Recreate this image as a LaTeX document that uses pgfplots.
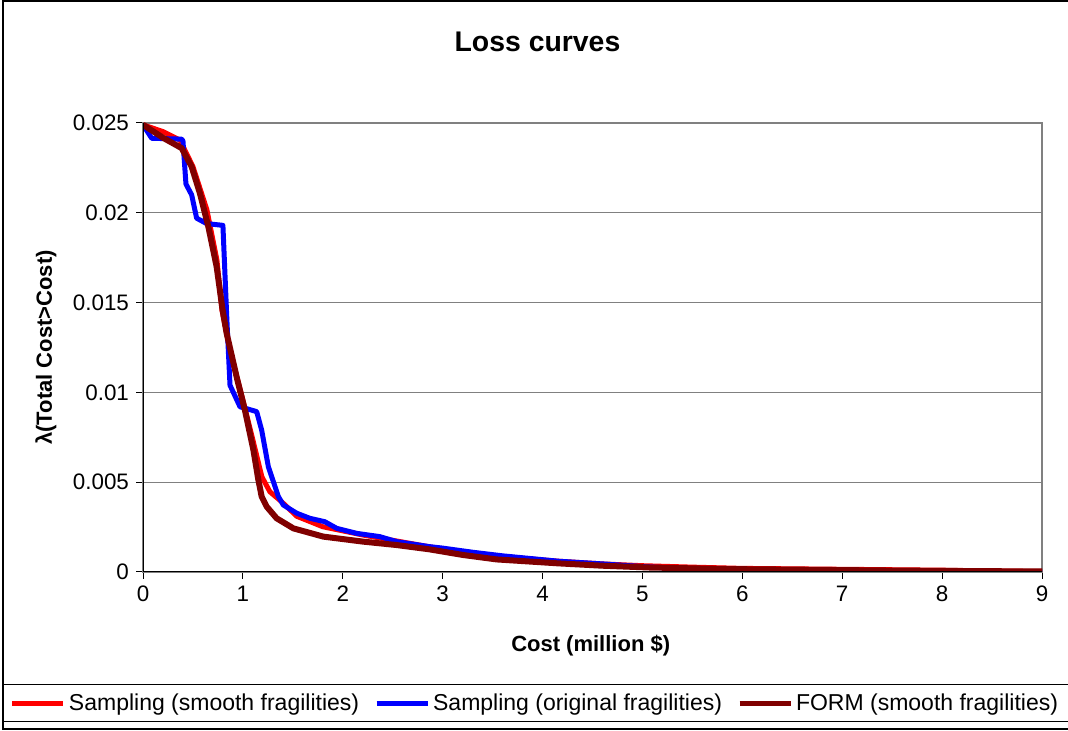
\documentclass[border=0pt]{standalone}
\usepackage{fontspec}
\setmainfont{Liberation Sans}
\usepackage{pgfplots}
\pgfplotsset{compat=1.18}

\definecolor{smoothred}{RGB}{255,0,0}
\definecolor{origblue}{RGB}{0,0,255}
\definecolor{formred}{RGB}{128,0,0}
\definecolor{gridgray}{RGB}{128,128,128}

\begin{document}
\begin{tikzpicture}
% page frame and legend box
\path[use as bounding box] (0pt,0pt) rectangle (534pt,365.5pt);
\draw[black, line width=0.6pt] (1.5pt,1pt) rectangle (540pt,365pt);
\draw[black, line width=0.6pt] (1.5pt,4.6pt) rectangle (540pt,23.3pt);

\begin{axis}[
  at={(71.5pt,79.5pt)}, anchor=south west,
  scale only axis, width=449.5pt, height=224.5pt,
  xmin=0, xmax=9, ymin=0, ymax=0.025,
  xtick={0,1,...,9},
  ytick={0,0.005,0.01,0.015,0.02,0.025},
  yticklabels={0,0.005,0.01,0.015,0.02,0.025},
  scaled y ticks=false,
  /pgf/number format/assume math mode=true,
  tick label style={font=\fontsize{11.2pt}{13pt}\selectfont},
  tick align=outside, major tick length=3.5pt,
  xtick pos=bottom, ytick pos=left,
  tick style={black, line width=0.5pt},
  ymajorgrids, major grid style={gridgray, line width=0.6pt},
  axis line style={gridgray, line width=0.6pt},
  title={\textbf{Loss curves}},
  title style={at={(0.4388,1.18)}, anchor=center, yshift=-6pt, font=\fontsize{14.2pt}{17pt}\selectfont},
  xlabel={\textbf{Cost (million \$)}},
  xlabel style={at={(0.498,-0.165)}, anchor=center, font=\fontsize{11pt}{13pt}\selectfont},
  ylabel={\textbf{λ(Total Cost>Cost)}},
  ylabel style={at={(-0.108,0.5)}, anchor=center, rotate=0, font=\fontsize{11pt}{13pt}\selectfont},
  legend columns=3,
  legend style={at={(0.4366,-0.2929)}, anchor=center, draw=none, fill=none,
    font=\fontsize{11.5pt}{13pt}\selectfont,
    nodes={inner xsep=1.5pt},
    /tikz/every odd column/.append style={column sep=0pt},
    /tikz/every even column/.append style={column sep=6pt}},
  legend image code/.code={\draw[#1, line width=2.5pt] (0pt,0pt) -- (25.5pt,0pt);},
]
% Sampling with smooth fragilities
\addplot[smoothred, line width=2.5pt, line join=round] coordinates {
(0,0.0249) (0.2,0.02452) (0.37,0.02405) (0.5,0.02257) (0.64,0.02016)
(0.74,0.01737) (0.79,0.01459) (0.87,0.01236) (1.0,0.00958) (1.1,0.00735)
(1.19,0.0053) (1.27,0.00447) (1.39,0.0039) (1.54,0.0031) (1.80,0.00252)
(2.2,0.00206) (2.87,0.0014) (3.2,0.0011) (3.6,0.00085) (4.16,0.0006)
(4.6,0.00045) (5.0,0.00035) (5.5,0.00027) (6.0,0.0002) (7.0,0.00015)
(8.0,0.0001) (8.5,0.00006) (9.0,0.00003)
};
\addlegendentry{Sampling (smooth fragilities)}
% Sampling with original fragilities
\addplot[origblue, line width=2.5pt, line join=round] coordinates {
(0,0.0249) (0.087,0.02415) (0.387,0.0241) (0.40,0.0240) (0.43,0.0216)
(0.487,0.0210) (0.537,0.0197) (0.637,0.0194) (0.80,0.0193) (0.84,0.0140)
(0.871,0.0104) (0.971,0.0092) (1.138,0.00893) (1.188,0.0079) (1.255,0.00586)
(1.355,0.0042) (1.405,0.00373) (1.54,0.00327) (1.67,0.00299) (1.82,0.0028)
(1.94,0.00243) (2.14,0.00215) (2.37,0.00197) (2.54,0.00169) (2.87,0.00141)
(3.0,0.00133) (3.3,0.0011) (3.6,0.0009) (4.16,0.0006) (4.6,0.00045)
(5.0,0.0003) (5.5,0.00015) (5.9,0.00005) (6.3,0.00001) (9,0)
};
\addlegendentry{Sampling (original fragilities)}
% FORM with smooth fragilities
\addplot[formred, line width=3pt, line join=round] coordinates {
(0,0.0249) (0.203,0.02417) (0.387,0.0236) (0.487,0.02257) (0.57,0.02108)
(0.654,0.01923) (0.737,0.017) (0.797,0.01459) (0.837,0.0133) (0.937,0.01087)
(1.02,0.00902) (1.105,0.0068) (1.155,0.00512) (1.188,0.0042) (1.238,0.00364)
(1.338,0.00299) (1.505,0.00243) (1.805,0.00197) (2.205,0.00169) (2.54,0.0015)
(2.87,0.00126) (3.2,0.00095) (3.54,0.0007) (4.16,0.00048) (4.6,0.00035)
(5.07,0.00025) (5.9,0.00016) (6.73,0.00012) (7.5,0.00008) (8.3,0.00005)
(9,0.00003)
};
\addlegendentry{FORM (smooth fragilities)}
% black value axes on the left and bottom
\draw[black, line width=0.6pt] (rel axis cs:0,1) -- (rel axis cs:0,0) -- (rel axis cs:1,0);
\end{axis}
\end{tikzpicture}
\end{document}
